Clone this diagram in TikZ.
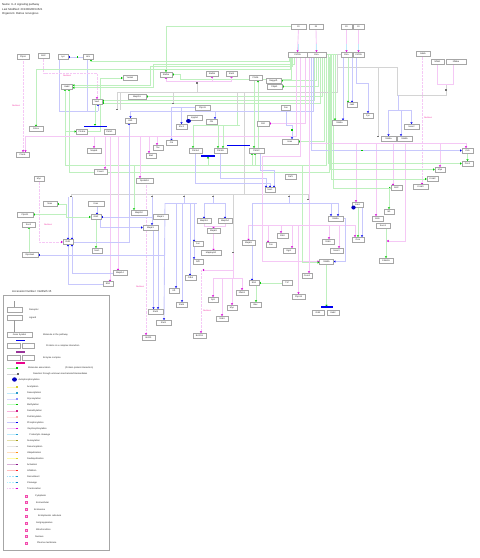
\documentclass[tikz,border=0pt]{standalone}
\usepackage{fontspec}
\setmainfont{Liberation Sans}
\usetikzlibrary{arrows.meta}
\pgfdeclarelayer{bg}
\pgfsetlayers{bg,main}
\definecolor{lgreen}{RGB}{190,240,190}
\definecolor{dgreen}{RGB}{0,200,0}
\definecolor{lblue}{RGB}{200,200,252}
\definecolor{dblue}{RGB}{0,0,240}
\definecolor{lpink}{RGB}{245,200,245}
\definecolor{dpink}{RGB}{215,0,215}
\definecolor{lgray}{RGB}{212,212,212}
\newcommand\gf{\fontsize{2.2}{2.4}\selectfont}
\newcommand\lf{\fontsize{2.3}{2.6}\selectfont}
\newcommand\tf{\fontsize{2.8}{3.2}\selectfont}
\tikzset{
  gn/.style={draw=black!35, line width=0.6pt, fill=white, inner sep=0pt, minimum height=4.6pt, minimum width=#1, font=\gf, text=black!85},
  ln/.style={line width=0.9pt},
  asc/.style={ln, draw=lgreen, -{Triangle[length=1.5pt,width=2.2pt,color=dgreen]}},
  ascl/.style={ln, draw=lgreen},
  pho/.style={ln, draw=lblue, -{Triangle[length=1.5pt,width=2.2pt,color=dblue]}},
  phol/.style={ln, draw=lblue},
  trn/.style={ln, draw=lpink, -{Triangle[length=1.5pt,width=2.2pt,color=dpink]}},
  trnl/.style={ln, draw=lpink},
  dtr/.style={ln, draw=lpink, dash pattern=on 0.7pt off 0.7pt, -{Triangle[length=1.5pt,width=2.2pt,color=dpink]}},
  unk/.style={ln, draw=lgray, -{Square[length=1.2pt,width=1.4pt,color=black!55]}},
  unkl/.style={ln, draw=lgray},
  cplx/.style={line width=1.2pt, draw=dblue},
  lt/.style={anchor=west, inner sep=0pt, font=\lf, text=black!85},
  pl/.style={inner sep=0pt, font=\gf, text=magenta!80},
}
\newcommand\legrow[5]{\draw[line width=0.9pt,draw=#2,#5] (7,#1) -- (17,#1); \fill[#3] (16.3,#1-0.9) rectangle (18.3,#1+0.9); \node[lt] at (27,#1) {#4};}
\newcommand\comprow[3]{\draw[draw=magenta!70, fill=magenta!25, line width=0.4pt] (25,#1-0.9) rectangle (27,#1+0.9); \node[lt] at (#2,#1) {#3};}
\begin{document}
\begin{tikzpicture}[x=1pt,y=-1pt]
\useasboundingbox (0,0) rectangle (480,558);
% title
\node[lt, font=\tf] (t1) at (2,5) {Name: IL-3 signaling pathway};
\node[lt, font=\tf] (t2) at (2,9.3) {Last Modified: 20130828154521};
\node[lt, font=\tf] (t3) at (2,13.6) {Organism: Rattus norvegicus};

% ---------------- nodes ----------------
\node[gn=12pt] (A1) at (23,56.5) {Ptpn6};
\node[gn=11pt] (A2) at (43.5,56) {Bcl2};
\node[gn=10pt] (A3) at (63,57) {Lyn};
\node[gn=10pt] (A4) at (88,57) {Hck};
\node[gn=14pt] (A5) at (130,78) {Ywhaz};
\node[gn=11pt] (A6) at (67,86.5) {Gab2};
\node[gn=18pt] (A7) at (137,96.5) {Map2k1};
\node[gn=10pt] (A8) at (97,101.5) {Vav1};
\node[gn=15pt] (B1) at (298.5,26.5) {Il3};
\node[gn=14pt] (B2) at (316,26.5) {Il3};
\node[gn=19pt] (B3) at (297.5,54.5) {Csf2rb};
\node[gn=19pt] (B4) at (316.5,54.5) {Il3ra};
\node[gn=11pt] (B5) at (346.5,26.5) {Il3};
\node[gn=11pt] (B6) at (358.5,26.5) {Il3};
\node[gn=11pt] (B7) at (346.5,54.5) {Il3ra};
\node[gn=11pt] (B8) at (358.5,54.5) {Csf2rb};
\node[gn=12pt] (C1) at (166,74.5) {Stat5a};
\node[gn=12pt] (C2) at (212,73.5) {Stat5b};
\node[gn=11pt] (C3) at (231.5,73.5) {Stat3};
\node[gn=13pt] (C4) at (255.5,78) {Ptk2b};
\node[gn=15pt] (C5) at (273.5,80.5) {Rapgef1};
\node[gn=15pt] (C6) at (274.5,86.5) {Pdpk1};
\node[gn=15pt] (C7) at (202.5,107.5) {Ptpn11};
\node[gn=9pt] (C8) at (286,108) {Fes};
\node[gn=14pt] (D1) at (423,54) {Ikbkb};
\node[gn=13pt] (D2) at (437.5,62) {Nfkb1};
\node[gn=20pt] (D3) at (456,62) {Nfkbia};
\node[gn=10pt] (D4) at (352,105) {Jak2};
\node[gn=14pt] (E1) at (36,129) {Prkca};
\node[gn=11pt] (E2) at (82,131.5) {Pik3ca};
\node[gn=11pt] (E3) at (109.5,131.5) {Pik3r1};
\node[gn=14pt] (E4) at (94,150.5) {Mapk8};
\node[gn=13pt] (E5) at (22.5,154.5) {Prkcb};
\node[gn=11pt] (E6) at (130.5,120.5) {Akt1};
\node[gn=10pt] (E7) at (158,147.5) {Tec};
\node[gn=10pt] (E8) at (151,155.5) {Bad};
\node[gn=13pt] (E9) at (100.5,171.5) {Foxo3};
\node[gn=10pt] (E10) at (39,179) {Myc};
\node[gn=17pt] (E11) at (144.5,180.5) {Rps6kb1};
\node[gn=15pt] (F1) at (194.5,117.5) {Inpp5d};
\node[gn=11pt] (F2) at (181.5,126.5) {Shc1};
\node[gn=11pt] (F3) at (211.5,121.5) {Cbl};
\node[gn=12pt] (F4) at (263,123.5) {Crkl};
\node[gn=11pt] (F5) at (171.5,143) {Crk};
\node[gn=13pt] (F6) at (195.5,150.5) {Pik3cd};
\node[gn=13pt] (F7) at (220.5,150.5) {Pik3cb};
\node[gn=15pt] (F8) at (256.5,150.5) {Pik3r2};
\node[gn=16pt] (F9) at (290,141.5) {Hras};
\node[gn=11pt] (F10) at (290.5,176.5) {Raf1};
\node[gn=10pt] (F11) at (270,190) {Sos1};
\node[gn=15pt] (G1) at (339.5,122.5) {Stat5a};
\node[gn=10pt] (G2) at (368,115.5) {Fyn};
\node[gn=15pt] (G3) at (411.5,126.5) {Socs2};
\node[gn=15pt] (G4) at (388.5,138.5) {Stat5a};
\node[gn=15pt] (G5) at (404.5,138.5) {Stat5b};
\node[gn=11pt] (G6) at (467.5,150.5) {Cish};
\node[gn=11pt] (G7) at (467.5,163.5) {Pim1};
\node[gn=10pt] (G8) at (440,169.5) {Myb};
\node[gn=11pt] (G9) at (432.5,179) {Ccnd2};
\node[gn=11pt] (G10) at (396.5,188) {Bcl2};
\node[gn=15pt] (G11) at (420.5,187) {Ccnd3};
\node[gn=14pt] (H1) at (50,204) {Nras};
\node[gn=16pt] (H2) at (96,203.5) {Kras};
\node[gn=16pt] (H3) at (25,214.5) {Ptpn11};
\node[gn=13pt] (H4) at (28.5,224.5) {Sos2};
\node[gn=10pt] (H5) at (96,217) {Grb2};
\node[gn=16pt] (H6) at (139,212.5) {Map2k2};
\node[gn=15pt] (H7) at (160.5,217) {Mapk1};
\node[gn=15pt] (H8) at (150.5,227.5) {Mapk3};
\node[gn=10pt] (H9) at (68,242) {Raf1};
\node[gn=16pt] (H10) at (30,255) {Rps6ka1};
\node[gn=10pt] (H11) at (97,250.5) {Sos1};
\node[gn=14pt] (H12) at (120,273) {Mapk14};
\node[gn=10pt] (H13) at (108,284) {Elk1};
\node[gn=15pt] (H14) at (155.5,311.5) {Stat3};
\node[gn=15pt] (H15) at (163.5,322.5) {Stat1};
\node[gn=13pt] (H16) at (148.5,337.5) {Bcl2l1};
\node[gn=14pt] (I1) at (204,221) {Map3k1};
\node[gn=14pt] (I2) at (225,221) {Map2k4};
\node[gn=13pt] (I3) at (213.5,231) {Mapk8};
\node[gn=10pt] (I4) at (198,244) {Jun};
\node[gn=20pt] (I5) at (211,253) {Mapkapk2};
\node[gn=10pt] (I6) at (198,261.5) {Atf2};
\node[gn=13pt] (I7) at (248.5,243) {Mapk9};
\node[gn=10pt] (I8) at (271,245) {Fos};
\node[gn=11pt] (I9) at (282.5,235.5) {Elk4};
\node[gn=12pt] (I10) at (289,250.5) {Egr1};
\node[gn=11pt] (I11) at (190.5,278) {Cdk4};
\node[gn=10pt] (I12) at (174,290.5) {Irf1};
\node[gn=11pt] (I13) at (181.5,304.5) {Stat6};
\node[gn=10pt] (I14) at (213,299.5) {Sp1};
\node[gn=10pt] (I15) at (232,307.5) {Myc};
\node[gn=12pt] (I16) at (222,318.5) {Stat4};
\node[gn=12pt] (I17) at (242,292.5) {Nfatc1};
\node[gn=10pt] (I18) at (254,283) {Ets1};
\node[gn=10pt] (I19) at (287,283) {Tnf};
\node[gn=11pt] (I20) at (255.5,304.5) {Bax};
\node[gn=13pt] (I21) at (298.5,296.5) {Ptpn13};
\node[gn=10pt] (I22) at (307,275.5) {Ccne1};
\node[gn=13pt] (I23) at (199.5,335.5) {Bcl2l11};
\node[gn=11pt] (J1) at (357.5,204.5) {Jak1};
\node[gn=15pt] (J2) at (335.5,218.5) {Stat5a};
\node[gn=12pt] (J3) at (328,241.5) {Stat6};
\node[gn=13pt] (J4) at (336.5,250.5) {Socs3};
\node[gn=12pt] (J5) at (358,239.5) {Osm};
\node[gn=14pt] (J6) at (326.5,261.5) {Stat5b};
\node[gn=11pt] (J7) at (377.5,218.5) {Bcl6};
\node[gn=10pt] (J8) at (389,211.5) {Id1};
\node[gn=14pt] (J9) at (383,225.5) {Socs1};
\node[gn=14pt] (J10) at (386,260.5) {Cdkn1b};
\node[gn=12pt] (K1) at (318,312.5) {Grb2};
\node[gn=12pt] (K2) at (333,312.5) {Gab2};

% complex bars and autophosphorylation
\draw[cplx] (84,126.5) -- (107,126.5);
\draw[cplx] (227,145.3) -- (250,145.3);
\draw[cplx] (201,156) -- (215,156);
\draw[cplx] (321,307) -- (333,307);
\fill[blue!75!black] (188.5,121) ellipse (2.4pt and 2pt);
\fill[blue!75!black] (353.5,207.5) ellipse (2.2pt and 2pt);

% pink labels
\node[pl] (p1) at (16,106) {Nucleus};
\node[pl] (p2) at (67,76) {Nucleus};
\node[pl] (p3) at (48,225) {Nucleus};
\node[pl] (p4) at (140,287) {Nucleus};
\node[pl] (p5) at (207,311) {Nucleus};
\node[pl] (p6) at (428,118) {Nucleus};

\begin{pgfonlayer}{bg}
% ligand -> receptor
\draw[trn] (B1.south) -- (B3.north);
\draw[trn] (B2.south) -- (B4.north);
\draw[trn] (B5.south) -- (B7.north);
\draw[trn] (B6.south) -- (B8.north);
\draw[ln, draw=cyan!25] (298.5,44) -- (298.5,50);
\draw[ln, draw=cyan!25] (316,44) -- (316,50);
\draw[ln, draw=cyan!25] (346.5,44) -- (346.5,50);
\draw[ln, draw=cyan!25] (358.5,44) -- (358.5,50);
\draw[ascl] (B4.east) -- (B7.west);

% top left
\draw[pho] (A4.west) -- (A3.east);
\fill[dgreen] (76.5,56.2) rectangle (78,57.8);
\draw[phol] ([xshift=-4pt]A3.south) -- (59,111) -- (98,111);
\draw[pho] (98,111) -- ([xshift=1pt]A8.south);
\draw[phol] ([xshift=-1pt]A4.south) -- (87,111);
\draw[dtr] (A1.south) -- ([xshift=0.5pt]E5.north);
\draw[dtr] (A2.south) -- (43.5,73) -- (97,73) -- (A8.north);
\draw[asc] (292,57) -- (292,66) -- (150,66) -- (150,85.3) -- ([yshift=1.2pt]A6.east);
\draw[asc] (294,57) -- (294,64) -- (153,64) -- (153,87.7) -- ([yshift=-1.2pt]A6.east);
\draw[asc] (290,57) -- (290,69) -- (36,69) -- (E1.north);
\draw[asc] (289,57) -- (289,61) -- (91,61) -- ([xshift=3pt]A4.south);
\draw[asc] (E2.east) -- (100,131.5) -- (100,78) -- (A5.west);
\draw[asc] (314,57) -- (314,100.7) -- ([yshift=0.8pt]A8.east);
\draw[asc] (320,57) -- (320,103) -- ([yshift=-1.5pt]A8.east);
\draw[asc] (322,57) -- (322,96.5) -- (A7.east);
\draw[asc] (326,57) -- (326,165) -- (65,165) -- ([xshift=-2pt]A6.south);
\draw[asc] (329,57) -- (329,172) -- (69,172) -- ([xshift=2pt]A6.south);
\draw[asc] (65,131.5) -- (E2.west);
\draw[asc] ([xshift=-2pt]A8.south) -- (95,125.6);
\draw[asc] (324,57) -- (324,141.5) -- (F9.east);
\draw[asc] (316,57) -- (316,80.5) -- (C5.east);
\draw[asc] (318,57) -- (318,86.5) -- (C6.east);
\draw[asc] (B1.west) -- (166,26.5) -- (C1.north);
\draw[asc] (291,57) -- (291,79) -- (180,79) -- (180,74.5) -- (C1.east);
% grey unknown-mechanism lines
\draw[unkl] (117,92.5) -- (337,92.5) -- (337,54.5) -- (B7.west);
\draw[unk] (117,92.5) -- (117,110);
\draw[unkl] (120,92.5) -- (120,110);
\draw[unk] (173,92.5) -- (173,104);
\draw[unk] (197,92.5) -- (197,82);
\draw[unk] (237,92.5) -- (237,112);
\draw[unkl] (244,92.5) -- (244,194);
\draw[unkl] (71,194) -- (308,194);
\draw[unk] (71,194) -- (71,197);
\draw[unk] (152,194) -- (152,197);
\draw[unk] (184,194) -- (184,197);
\draw[unk] (213,194) -- (213,197);
\draw[unk] (289,194) -- (289,197);
\draw[unk] (308,194) -- (308,200);
\draw[unk] (233,194) -- (233,253);
\draw[unkl] (337,67) -- (397,67);
\draw[unk] (378,67) -- (378,137);
\draw[unkl] (397,67) -- (397,95) -- (446,95) -- (446,84);
\draw[unk] (446,95) -- (446,89);
\draw[trnl] (D2.south) -- (437.5,84) -- (453,84) -- ([xshift=-3pt]D3.south);
% pink tree under STATs
\draw[trnl] (166,81) -- (231.5,81);
\draw[trn] (166,81) -- (C1.south);
\draw[trn] (212,81) -- (C2.south);
\draw[trn] (231.5,81) -- (C3.south);
% right top
\draw[phol] (398,95) -- (398,110);
\draw[phol] (388.5,110) -- (411.5,110);
\draw[pho] (388.5,110) -- (G4.north);
\draw[pho] (401,110) -- ([xshift=-3.5pt]G5.north);
\draw[pho] (411.5,110) -- (G3.north);
\draw[pho] ([xshift=-2pt]B8.south) -- (356.5,83) -- (368,83) -- (G2.north);
\draw[asc] ([xshift=1.5pt]B7.south) -- ([xshift=-4pt]D4.north);
\draw[pho] ([xshift=5.5pt]B7.south) -- (D4.north);
\draw[asc] (335,54.5) -- (335,120.2);
\draw[pho] (343,57) -- (343,120.2);
\draw[dtr] ([xshift=-1pt]D1.south) -- ([xshift=1.5pt]G11.north);
% pink line y=143
\draw[trnl] (309,57) -- (309,143) -- (466,143);
\draw[trn] (356,143) -- ([xshift=-1.5pt]J1.north);
\draw[trn] (376,143) -- ([xshift=-1.5pt]J7.north);
\draw[trn] (393,143) -- ([xshift=-3.5pt]G10.north);
\draw[trn] (405,143) -- (405,241) -- (387,241);
\draw[trn] (440,143) -- (G8.north);
\draw[trn] (466,143) -- ([xshift=-1.5pt]G6.north);
% blue line y=150
\draw[pho] (311,57) -- (311,150.5) -- (G6.west);
\fill[dgreen] (361.2,149.7) rectangle (362.8,151.3);
\draw[asc] (G6.south) -- (G7.north);
\draw[asc] (328,54.5) -- (328,163.5) -- (G7.west);
\draw[asc] (330,54.5) -- (330,169.5) -- (G8.west);
\draw[asc] (331.5,54.5) -- (331.5,179) -- (G9.west);
\draw[asc] (333,54.5) -- (333,188) -- (G10.west);
\draw[asc] (389,188) -- (J8.north);
% middle
\draw[pho] (313,57) -- (313,111.5) -- (130.5,111.5) -- (E6.north);
\draw[pho] (215,111.5) -- ([xshift=3.5pt]F3.north);
\draw[pho] (C7.west) -- (171.5,107.5) -- (F5.north);
\draw[pho] (181.5,107.5) -- (F2.north);
\draw[trn] (305,57) -- (305,123.5) -- (F4.east);
\draw[trnl] (296,57) -- (296,136) -- (25.5,136);
\draw[trn] (25.5,136) -- ([xshift=3pt]E5.north);
\draw[trn] (94,136) -- (E4.north);
\draw[trn] (105,136) -- ([xshift=4.5pt]E9.north);
\draw[trn] (110,136) -- ([xshift=2pt]H13.north);
\draw[trn] (118,136) -- ([xshift=-2pt]H12.north);
\draw[trn] (140,136) -- ([xshift=-4.5pt]E11.north);
\draw[trn] (149,136) -- ([xshift=-2pt]E8.north);
\draw[trn] (157,136) -- ([xshift=-1pt]E7.north);
\draw[dtr] (E10.south) -- (39,242) -- (H9.west);
\draw[dtr] ([xshift=1.5pt]E11.south) -- ([xshift=-2.5pt]H16.north);
\draw[ascl] (193,125.5) -- (240,125.5);
\draw[ascl] (237,112) -- (237,125.5);
\draw[asc] (193,125.5) -- ([xshift=-2.5pt]F6.north);
\draw[asc] (218,125.5) -- ([xshift=-2.5pt]F7.north);
\draw[asc] (223,125.5) -- ([xshift=2.5pt]F7.north);
\draw[asc] ([xshift=-1.5pt]C4.south) -- ([xshift=-2.5pt]F8.north);
\draw[asc] ([xshift=1.5pt]F8.north) -- ([xshift=2.5pt]C4.south);
\draw[asc] (208,165) -- (208,156.8);
\draw[asc] (252,165) -- ([xshift=-4.5pt]F8.south);
\draw[asc] (255,165) -- ([xshift=-1.5pt]F8.south);
\draw[pho] (C8.south) -- (286,125) -- (292,125) -- ([xshift=2pt]F9.north);
\fill[dgreen] (291.2,129.2) rectangle (292.8,130.8);
\draw[phol] (F7.south) -- (220.5,178) -- (266,178);
\draw[pho] (266,178) -- ([xshift=-4pt]F11.north);
\draw[pho] (F6.south) -- (195.5,183) -- (270,183) -- (F11.north);
\draw[pho] ([xshift=4pt]F8.south) -- (260.5,170) -- (274,170) -- ([xshift=4pt]F11.north);
\draw[trn] (300,57) -- (300,156) -- (262,156) -- (262,261.5) -- (J6.west);
\draw[asc] (302,165) -- (302,262.5) -- ([yshift=-1pt]J6.west);
% pink tree y=225
\draw[trnl] (248.5,225) -- (355,225);
\draw[trn] (248.5,225) -- (I7.north);
\draw[trn] (268,225) -- ([xshift=-3pt]I8.north);
\draw[trn] (281,225) -- ([xshift=-1.5pt]I9.north);
\draw[trn] (292,225) -- ([xshift=3pt]I10.north);
\draw[trn] (298.5,225) -- (I21.north);
\draw[trn] (329,225) -- ([xshift=1pt]J3.north);
\draw[trn] (339,225) -- ([xshift=2.5pt]J4.north);
\draw[trn] (355,225) -- ([xshift=-3pt]J5.north);
\draw[trn] (309,143) -- ([xshift=2pt]I22.north);
% blue tree right y=203
\draw[phol] (289,197) -- (289,203);
\draw[phol] (252,203) -- (338,203);
\draw[pho] (252,203) -- ([xshift=-2pt]I18.north);
\draw[pho] (331,203) -- ([xshift=-4.5pt]J2.north);
\draw[pho] (338,203) -- ([xshift=2.5pt]J2.north);
\draw[asc] (I19.west) -- (I18.east);
\draw[asc] ([xshift=2pt]I18.south) -- ([xshift=0.5pt]I20.north);
\draw[asc] ([xshift=0.5pt]J1.south) -- ([xshift=0pt]J5.north);
\draw[pho] ([xshift=4.5pt]J1.south) -- ([xshift=4pt]J5.north);
\draw[pho] (J2.east) -- (345,218.5) -- (345,261.5) -- (J6.east);
\draw[asc] (J6.south) -- (326.5,306.3);
\draw[asc] ([xshift=3pt]J9.south) -- (J10.north);
% blue tree lower middle
\draw[phol] (184,197) -- (184,203);
\draw[phol] (165,203) -- (197,203);
\draw[pho] (165,203) -- ([xshift=0.5pt]H15.north);
\draw[pho] (176,203) -- ([xshift=2pt]I12.north);
\draw[pho] (182,203) -- ([xshift=0.5pt]I13.north);
\draw[pho] (190,203) -- ([xshift=-0.5pt]I11.north);
\draw[pho] (194,203) -- ([xshift=-4pt]I4.north);
\draw[pho] (194,246) -- ([xshift=-4pt]I6.north);
\draw[phol] (213,197) -- (213,203);
\draw[phol] (204,203) -- (225,203);
\draw[pho] (204,203) -- (I1.north);
\draw[pho] (225,203) -- (I2.north);
\draw[trnl] (I1.south) -- (204,226) -- (225,226) -- (I2.south);
\draw[trn] (213.5,226) -- (I3.north);
\draw[trn] (I3.south) -- ([xshift=2.5pt]I5.north);
\draw[pho] (165,255) -- (H10.east);
% pink tree lower middle
\draw[trnl] (233,253) -- (233,278);
\draw[trn] (233,270) -- (202.5,270);
\draw[dtr] (201,270) -- ([xshift=1.5pt]I23.north);
\draw[trnl] (213,278) -- (242,278);
\draw[trn] (213,278) -- (I14.north);
\draw[trn] (222,278) -- (I16.north);
\draw[trn] (232,278) -- (I15.north);
\draw[trn] (242,278) -- (I17.north);
% lower left
\draw[pho] (68,197) -- (H9.north);
\draw[pho] (72,197) -- ([xshift=4pt]H9.north);
\draw[asc] (66,204) -- (H1.east);
\draw[ascl] (66,204) -- (66,217);
\draw[asc] (66,214.5) -- (H3.east);
\draw[asc] (66,217) -- (H5.west);
\draw[asc] ([xshift=-1pt]H10.north) -- ([xshift=0.5pt]H4.south);
\draw[pho] ([xshift=1pt]H2.south) -- ([xshift=1pt]H5.north);
\draw[pho] (H7.west) -- (H5.east);
\draw[asc] (H5.south) -- ([xshift=-1pt]H11.north);
\draw[pho] ([xshift=4pt]H5.south) -- (100,227.5) -- (H8.west);
\draw[pho] (H12.west) -- (72,273) -- ([xshift=4pt]H9.south);
\draw[pho] (H13.west) -- (68,284) -- (H9.south);
\draw[pho] (H9.east) -- (129,242) -- ([xshift=-1.5pt]E6.south);
\draw[asc] (134,165) -- ([xshift=-5pt]H6.north);
\draw[pho] (152,197) -- ([xshift=1.5pt]H8.north);
\draw[pho] ([xshift=3pt]H8.south) -- ([xshift=-2pt]H14.north);
\draw[pho] (158,230) -- ([xshift=2.5pt]H14.north);
\end{pgfonlayer}

% ---------------- legend ----------------
\node[lt, font=\tf] (lt0) at (12,291) {Accession Number: NetPath 15};
\draw[black!35, line width=0.6pt] (3,295) rectangle (109,550);
\draw[black!40, line width=0.5pt] (14.5,301) -- (14.5,307);
\node[gn=15pt] (lr) at (14.5,309.5) {};
\node[lt] at (29,309.5) {Receptor};
\node[gn=15pt] (lg) at (14.5,317.5) {};
\node[lt] at (29,317.5) {Ligand};
\draw[black!40, line width=0.5pt] (lg.south) -- (14.5,332);
\node[gn=25pt] (lgs) at (19.5,334.5) {Gene Symbol};
\node[lt] at (43,334.5) {Molecule in the pathway};
\draw[cplx] (16,340.3) -- (25,340.3);
\node[gn=13pt] (lc1) at (13.5,345.5) {};
\node[gn=12pt] (lc2) at (28,345.5) {};
\node[lt] at (46,345.5) {Proteins in a complex interaction};
\draw[line width=1.2pt, draw=violet!80] (16,352) -- (25,352);
\node[gn=13pt] (le1) at (13.5,357.5) {};
\node[gn=12pt] (le2) at (28,357.5) {};
\node[lt] at (43,357.5) {Enzyme complex};
\draw[line width=1.2pt, draw=magenta] (16,363) -- (25,363);
\draw[ln, draw=lgreen] (7,368) -- (17,368); \fill[dgreen] (16.3,367.1) rectangle (18.3,368.9);
\node[lt] at (28,368) {Molecular association};
\node[lt] at (65,368) {(Protein-protein interaction)};
\draw[ln, draw=lgray] (7,374) -- (17,374); \fill[black!60] (17.3,373.2) rectangle (18.9,374.8);
\node[lt] at (33,374) {Reaction through unknown mechanism/intermediates};
\fill[blue!75!black] (14.5,379.5) ellipse (2.4pt and 2.2pt);
\node[lt] at (18.5,380) {Autophosphorylation};
\legrow{387}{yellow!30}{yellow!80!black}{Acetylation}{}
\legrow{393}{cyan!25}{cyan!80!black}{Deacetylation}{}
\legrow{399}{blue!15}{blue!45}{Glycosylation}{}
\legrow{404.5}{green!25}{green!75!black}{Methylation}{}
\legrow{411}{magenta!30}{magenta!85!black}{Demethylation}{}
\legrow{417}{pink!40}{pink!90!red}{Palmitoylation}{}
\legrow{422.5}{lblue}{dblue}{Phosphorylation}{}
\legrow{428.5}{lpink}{dpink}{\,Dephosphorylation}{}
\legrow{434.5}{cyan!25}{cyan!85!black}{\quad Proteolytic cleavage}{}
\legrow{440.5}{olive!25}{olive!80}{Sumoylation}{}
\legrow{446.5}{black!10}{black!25}{Desumoylation}{}
\legrow{452.5}{orange!25}{orange!90}{Ubiquitination}{}
\legrow{458.5}{yellow!35}{yellow!85!black}{Deubiquitination}{}
\legrow{464.5}{violet!30}{violet!90}{Activation}{}
\legrow{470.5}{red!25}{red!85}{Inhibition}{}
\legrow{476.5}{cyan!35}{cyan!85!black}{Recruitment}{dash pattern=on 0.8pt off 0.8pt}
\legrow{482.5}{blue!20!cyan!30}{cyan!60!blue}{Cleavage}{dash pattern=on 0.8pt off 0.8pt}
\legrow{488.5}{lpink}{dpink}{Translocation}{dash pattern=on 0.8pt off 0.8pt}
\comprow{496}{35}{Cytoplasm}
\comprow{502.5}{36}{Extracellular}
\comprow{509.5}{34}{Endosome}
\comprow{516}{38}{Endoplasmic reticulum}
\comprow{523}{36}{Golgi apparatus}
\comprow{530}{36}{Mitochondrion}
\comprow{536.5}{35}{Nucleus}
\comprow{543}{37}{Plasma membrane}
\end{tikzpicture}
\end{document}
